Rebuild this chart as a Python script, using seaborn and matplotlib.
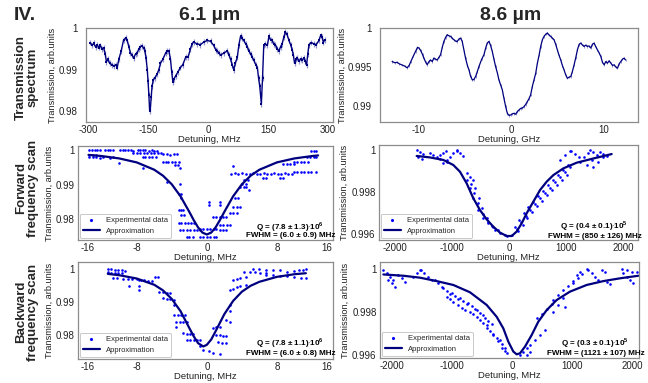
import numpy as np
import pandas as pd
import matplotlib
matplotlib.use("Agg")
import matplotlib.pyplot as plt
import seaborn as sns

# ---------------- data ----------------
# Transmission spectrum, 6.1 um (detuning MHz)
tl_x = [-294,-290,-286,-281,-277,-273,-269,-265,-261,-257,-254,-250,-246,-240,-235,-230,-227,-223,-217,-211,
        -206,-202,-198,-194,-190,-186,-181,-177,-173,-169,-165,-161,-158,-155,-152,-150,-148,-146,-144,-142,
        -140,-137,-133,-127,-123,-119,-113,-106,-102,-98,-94,-91,-88,-85,-81,-75,-69,-63,-56,-50,
        -44,-40,-36,-28,-19,-11,-2,6,14,19,23,27,31,40,48,52,56,60,64,68,
        73,77,81,85,89,94,98,102,106,110,114,119,123,126,129,131,133,136,139,143,
        148,152,156,160,164,168,173,177,181,185,189,193,197,202,206,210,213,216,220,223,
        227,231,235,239,243,246,249,252,258,264,270,277,281,285,288,291]
tl_y = [0.9965,0.9958,0.9963,0.9955,0.9960,0.9953,0.9958,0.9950,0.9952,0.9938,0.9919,0.9925,0.9915,0.9912,0.9908,0.9912,0.9905,0.9925,0.9945,0.9972,
        0.9975,0.9970,0.9955,0.9940,0.9935,0.9928,0.9938,0.9940,0.9950,0.9955,0.9957,0.9952,0.9945,0.9928,0.9900,0.9872,0.9840,0.9800,0.9810,0.9835,
        0.9860,0.9875,0.9880,0.9890,0.9900,0.9915,0.9925,0.9940,0.9945,0.9945,0.9925,0.9895,0.9870,0.9878,0.9885,0.9895,0.9905,0.9912,0.9930,0.9930,
        0.9950,0.9962,0.9966,0.9962,0.9960,0.9966,0.9970,0.9968,0.9958,0.9948,0.9945,0.9940,0.9935,0.9940,0.9945,0.9936,0.9925,0.9912,0.9900,0.9915,
        0.9930,0.9960,0.9980,0.9975,0.9970,0.9962,0.9955,0.9945,0.9938,0.9930,0.9923,0.9912,0.9905,0.9880,0.9860,0.9840,0.9818,0.9880,0.9958,0.9962,
        0.9958,0.9980,0.9972,0.9970,0.9962,0.9960,0.9950,0.9945,0.9955,0.9962,0.9978,0.9990,0.9985,0.9970,0.9960,0.9948,0.9935,0.9915,0.9925,0.9928,
        0.9920,0.9925,0.9922,0.9928,0.9920,0.9910,0.9938,0.9960,0.9965,0.9962,0.9960,0.9970,0.9982,0.9978,0.9965,0.9972]
tl_err = 0.0007

# Transmission spectrum, 8.6 um (detuning GHz)
tr_x = [-12.89,-12.6,-12.35,-12.1,-11.81,-11.5,-11.26,-11.05,-10.9,-10.6,-10.36,-10.15,-10.0,-9.82,-9.6,-9.46,-9.25,-9.1,-8.9,-8.74,
        -8.55,-8.38,-8.2,-8.01,-7.8,-7.65,-7.45,-7.29,-7.1,-6.93,-6.75,-6.57,-6.4,-6.21,-6.0,-5.85,-5.65,-5.49,-5.31,-5.1,
        -4.95,-4.75,-4.58,-4.4,-4.22,-4.05,-3.86,-3.68,-3.5,-3.2,-2.96,-2.78,-2.6,-2.42,-2.25,-2.06,-1.88,-1.7,-1.5,-1.34,
        -1.15,-0.97,-0.8,-0.61,-0.43,-0.25,-0.07,0.1,0.29,0.47,0.65,0.83,1.01,1.2,1.37,1.55,1.73,1.9,2.09,2.27,
        2.45,2.64,2.82,3.0,3.18,3.36,3.54,3.72,3.9,4.08,4.26,4.44,4.62,4.8,4.98,5.16,5.34,5.52,5.7,5.88,
        6.06,6.25,6.43,6.6,6.79,6.97,7.15,7.33,7.51,7.7,7.87,8.05,8.23,8.4,8.59,8.77,8.95,9.13,9.31,9.5,
        9.68,9.86,10.04,10.22,10.4,10.58,10.76,10.94,11.12,11.3,11.48,11.66,11.84,12.02,12.2,12.35]
tr_y = [0.99571,0.99555,0.99560,0.99540,0.99525,0.99510,0.99490,0.99520,0.99560,0.99640,0.99700,0.99750,0.99745,0.99715,0.99660,0.99614,0.99560,0.99530,0.99570,0.99590,
        0.99570,0.99614,0.99600,0.99590,0.99630,0.99657,0.99760,0.99828,0.99880,0.99914,0.99900,0.99893,0.99870,0.99850,0.99830,0.99828,0.99860,0.99871,0.99828,0.99700,
        0.99614,0.99520,0.99464,0.99380,0.99335,0.99340,0.99378,0.99440,0.99507,0.99600,0.99657,0.99740,0.99807,0.99828,0.99780,0.99700,0.99600,0.99507,0.99420,0.99335,
        0.99270,0.99206,0.99100,0.98992,0.98906,0.98880,0.98885,0.98900,0.98906,0.98895,0.98928,0.98950,0.98970,0.98975,0.98992,0.99020,0.99056,0.99090,0.99142,0.99250,
        0.99335,0.99420,0.99550,0.99650,0.99764,0.99850,0.99893,0.99920,0.99936,0.99910,0.99893,0.99870,0.99850,0.99790,0.99721,0.99650,0.99592,0.99520,0.99464,0.99400,
        0.99356,0.99370,0.99378,0.99440,0.99528,0.99620,0.99721,0.99790,0.99807,0.99780,0.99764,0.99780,0.99764,0.99770,0.99743,0.99790,0.99807,0.99760,0.99721,0.99680,
        0.99635,0.99560,0.99528,0.99570,0.99550,0.99580,0.99550,0.99520,0.99528,0.99500,0.99485,0.99540,0.99571,0.99600,0.99614,0.99590]
tr_err = 0.00015

# Forward scan, 6.1 um: experimental points (detuning MHz, transmission)
fwd61_pts = [
    (-13.4,1.0000),(-13.1,0.9999),(-12.8,1.0000),(-12.5,0.9999),(-12.2,1.0000),(-11.6,0.9999),(-11.3,1.0000),(-11.0,0.9999),
    (-10.7,1.0000),(-9.9,0.9999),(-9.6,1.0000),(-9.3,0.9999),(-9.0,1.0000),(-8.7,0.9999),(-8.4,0.9998),(-7.9,0.9999),
    (-7.6,1.0000),(-7.3,0.9999),(-7.0,0.9999),(-6.6,0.9998),(-6.3,0.9999),(-6.0,0.9998),(-5.7,0.9998),
    (-8.4,0.9992),(-8.0,0.9992),(-7.6,0.9991),(-7.2,0.9992),(-6.8,0.9991),(-6.4,0.9992),(-6.0,0.9991),(-5.6,0.9992),(-5.2,0.9992),
    (-13.4,0.9986),(-13.0,0.9986),(-12.6,0.9985),
    (-13.4,0.9979),(-13.0,0.9979),(-12.6,0.9979),(-12.2,0.9978),(-11.8,0.9979),(-11.0,0.9978),(-10.7,0.9979),
    (-10.0,0.9964),
    (-7.3,0.9981),(-7.0,0.9981),(-6.6,0.9980),(-6.2,0.9981),(-5.8,0.9980),
    (-5.0,0.9988),(-4.6,0.9988),(-4.2,0.9987),(-3.8,0.9988),(-3.4,0.9988),
    (-5.0,0.9966),(-4.7,0.9966),(-4.4,0.9965),(-4.0,0.9966),(-3.6,0.9966),(-3.2,0.9965),
    (-3.6,0.9957),(-3.3,0.9957),(-3.1,0.9947),(-7.3,0.9947),
    (-4.6,0.9908),(-3.1,0.9903),
    (-3.2,0.9874),(-2.9,0.9874),(-3.0,0.9860),
    (-3.2,0.9826),(-3.0,0.9826),(-2.7,0.9826),(-2.9,0.9812),(-2.6,0.9812),
    (-3.2,0.9787),(-2.9,0.9787),(-2.5,0.9787),(-2.1,0.9787),(-1.8,0.9787),(-1.5,0.9787),
    (-3.1,0.9768),(-2.7,0.9768),(-2.3,0.9768),(-1.9,0.9768),(-1.5,0.9768),(-1.1,0.9768),(-0.8,0.9768),
    (-2.3,0.9749),(-2.0,0.9749),(-1.6,0.9749),(-0.8,0.9749),(-0.4,0.9749),(0.0,0.9749),(0.4,0.9749),(0.8,0.9749),(1.1,0.9749),
    (-0.8,0.9771),(-0.4,0.9771),(0.0,0.9771),(0.4,0.9771),(0.8,0.9771),(1.1,0.9771),
    (0.3,0.9850),(1.5,0.9850),(0.3,0.9841),(1.5,0.9841),
    (0.7,0.9807),(1.1,0.9807),(1.5,0.9807),(1.9,0.9807),(2.2,0.9807),
    (1.5,0.9783),(1.9,0.9783),(2.3,0.9783),(2.6,0.9783),
    (1.5,0.9768),(1.9,0.9768),(2.2,0.9768),
    (2.6,0.9816),(3.0,0.9816),(3.4,0.9816),
    (3.0,0.9836),(3.4,0.9836),(3.8,0.9836),
    (3.2,0.9860),(3.6,0.9860),
    (3.8,0.9894),(4.2,0.9894),(4.5,0.9894),(4.0,0.9903),(4.5,0.9903),(4.3,0.9913),(4.7,0.9913),(4.8,0.9885),
    (3.0,0.9955),
    (2.8,0.9932),(3.2,0.9933),(3.6,0.9932),(4.0,0.9933),(4.5,0.9932),(4.9,0.9932),(5.3,0.9933),(5.7,0.9932),(6.1,0.9932),
    (6.5,0.9933),(6.9,0.9932),(7.3,0.9932),(7.7,0.9933),(8.1,0.9932),(8.5,0.9932),(8.9,0.9933),(9.3,0.9932),(9.7,0.9932),
    (6.4,0.9918),(6.8,0.9918),(8.3,0.9918),(8.7,0.9918),
    (9.9,0.9937),(10.3,0.9937),(10.7,0.9937),(11.1,0.9937),(11.5,0.9937),(11.9,0.9937),(12.5,0.9937),
    (8.7,0.9961),(9.1,0.9961),(9.5,0.9961),(9.9,0.9961),
    (9.9,0.9966),(10.3,0.9966),(10.7,0.9966),(11.1,0.9966),(11.5,0.9966),
    (11.4,0.9981),(11.8,0.9981),(12.2,0.9981),(12.5,0.9981),
    (11.9,0.9998),(12.2,0.9998),(12.5,0.9998),
]
fwd61_fit_x = [-13.5,-12,-10,-8,-6,-5,-4,-3,-2,-1.5,-1,-0.5,0,0.5,1,1.5,2,3,4,5,6,8,10,12,12.7]
fwd61_fit_y = [0.99862,0.99828,0.99759,0.99644,0.99431,0.99257,0.99008,0.98658,0.98208,0.97970,0.97756,0.97605,0.97550,
               0.97605,0.97756,0.97970,0.98208,0.98658,0.99008,0.99257,0.99431,0.99644,0.99759,0.99828,0.99847]

# Backward scan, 6.1 um
bwd61_pts = [
    (-11.3,0.9999),(-10.9,0.99985),(-10.5,0.99975),(-10.1,0.99965),(-9.7,0.99955),(-9.3,0.9995),
    (-11.3,0.9990),(-10.9,0.99885),(-10.5,0.9988),(-10.1,0.9987),(-9.7,0.99865),
    (-10.7,0.9971),(-10.2,0.9971),(-9.6,0.9970),(-9.0,0.9970),(-8.5,0.9969),(-8.0,0.9968),(-7.5,0.9967),
    (-8.9,0.9949),(-7.7,0.9948),(-7.7,0.9936),
    (-7.7,0.9966),(-7.2,0.9965),(-6.7,0.9964),(-6.2,0.9963),
    (-5.9,0.9977),(-5.6,0.9975),
    (-5.4,0.9931),(-5.0,0.9929),(-4.6,0.9928),(-4.2,0.9926),
    (-5.0,0.9911),(-4.6,0.9910),(-4.2,0.9908),(-3.8,0.9906),
    (-3.8,0.9891),
    (-3.7,0.9861),(-3.3,0.9861),(-2.9,0.9861),(-2.5,0.9861),
    (-3.5,0.9840),(-3.1,0.9840),(-2.7,0.9840),(-2.3,0.9840),
    (-3.5,0.9825),
    (-2.7,0.9805),(-2.3,0.9804),(-1.9,0.9803),(-1.6,0.9802),
    (-2.3,0.9785),(-1.9,0.9785),(-1.5,0.9785),(-1.1,0.9785),(-0.8,0.9785),
    (-0.8,0.9765),(-0.4,0.9755),(0.3,0.9750),(0.7,0.9745),(1.5,0.9741),
    (1.3,0.9780),(1.7,0.9777),(2.2,0.9775),
    (1.1,0.9800),(1.5,0.9799),(1.9,0.9798),(2.2,0.9797),
    (0.7,0.9820),(1.1,0.9823),(1.5,0.9825),
    (2.2,0.9845),(2.6,0.9840),
    (2.6,0.9871),(2.6,0.9891),
    (2.6,0.9936),(3.0,0.9940),(3.4,0.9945),(3.8,0.9948),(4.5,0.9952),
    (3.0,0.9967),(3.4,0.9970),(3.8,0.9973),(4.5,0.9977),
    (4.3,0.9992),(4.9,0.9991),(5.5,0.9990),(6.1,0.9989),(6.8,0.9987),
    (5.3,1.0000),(6.0,0.9999),(6.8,0.9998),(7.6,0.9997),(8.4,0.9996),(9.1,0.9992),
    (6.8,0.9982),(7.6,0.9981),(8.4,0.9979),(9.2,0.9978),(10.0,0.9976),(10.8,0.9974),(11.3,0.9972),
    (9.9,0.9994),(10.5,0.9996),(11.0,0.9998),(11.3,1.0000),
]
bwd61_fit_x = [-11.3,-10,-8,-6,-5,-4,-3,-2,-1.5,-1,-0.4,0,0.5,1,1.5,2,3,4,5,6,8,10,11.3]
bwd61_fit_y = [0.9985,0.9981,0.9971,0.9952,0.9935,0.9909,0.9872,0.9821,0.9796,0.9775,0.9765,0.9770,0.9786,
               0.9811,0.9837,0.9863,0.9903,0.9931,0.9949,0.9961,0.9976,0.9984,0.9987]

# Forward scan, 8.6 um
fwd86_pts = [
    (-1620,1.0),(-1561,0.99991),(-1503,0.99981),
    (-1591,0.99965),(-1532,0.99956),
    (-1386,0.99987),(-1327,0.99978),(-1269,0.99968),(-1211,0.99959),
    (-1211,0.99976),(-1152,0.99987),(-1105,0.99997),
    (-1094,0.99953),(-1035,0.99968),(-977,0.99984),(-918,1.0),
    (-918,0.99997),(-860,0.99984),(-801,0.99972),
    (-1152,0.99937),(-1094,0.99945),
    (-743,0.99889),(-684,0.99874),(-626,0.99858),
    (-743,0.99858),(-672,0.99837),(-602,0.99818),
    (-684,0.99818),(-608,0.99794),(-532,0.99771),
    (-626,0.99771),(-550,0.99747),(-474,0.99723),
    (-538,0.99715),(-462,0.99695),(-392,0.99676),
    (-450,0.99676),(-374,0.99657),(-298,0.99640),
    (-363,0.99652),(-275,0.99636),(-187,0.99621),
    (-246,0.99621),(-158,0.99608),(-70,0.99597),
    (-41,0.99592),(47,0.99597),
    (105,0.99636),(134,0.99625),(164,0.99614),
    (181,0.99668),(211,0.99657),(240,0.99646),
    (263,0.99700),(292,0.99689),(322,0.99677),
    (339,0.99728),(368,0.99717),(398,0.99706),
    (427,0.99755),(456,0.99744),(485,0.99733),
    (515,0.99782),(544,0.99771),(573,0.99760),
    (602,0.99807),(632,0.99796),(661,0.99785),
    (690,0.99832),(719,0.99821),(749,0.99810),
    (778,0.99858),(807,0.99847),(836,0.99836),
    (866,0.99881),(895,0.99870),(924,0.99859),
    (953,0.99905),(982,0.99894),(1012,0.99883),
    (1041,0.99929),(1070,0.99918),
    (895,0.99953),(982,0.99976),(1070,0.99997),
    (1082,0.99997),(1152,0.99981),(1222,0.99965),
    (1246,0.99945),(1316,0.99965),(1386,0.99984),
    (1363,0.99929),(1450,0.99953),(1538,0.99976),
    (1480,0.99921),(1567,0.99945),(1655,0.99968),
    (1597,0.99992),(1655,0.99981),(1713,0.99972),
    (1421,1.0),(1480,0.99992),
]
fwd86_fit_x = [-1620,-1386,-1152,-977,-860,-743,-626,-509,-392,-275,-158,-41,47,134,222,310,427,544,661,778,953,1187,1480,1801]
fwd86_fit_y = [0.99972,0.99965,0.99953,0.99929,0.99897,0.99842,0.99771,0.99715,0.99671,0.99636,0.99608,0.99592,
               0.99592,0.99613,0.99652,0.99700,0.99755,0.99810,0.99850,0.99881,0.99913,0.99940,0.99960,0.99981]

# Backward scan, 8.6 um
bwd86_pts = [
    (-2137,0.99995),(-2082,0.99980),(-2027,0.99964),(-1971,0.99949),
    (-2054,0.99949),(-1999,0.99933),(-1944,0.99918),
    (-1888,0.99972),(-1833,0.99957),(-1777,0.99941),
    (-1639,0.99964),(-1573,0.99980),(-1506,0.99995),
    (-1528,0.99995),(-1462,0.99980),(-1395,0.99964),(-1329,0.99949),
    (-1279,0.99949),(-1224,0.99933),(-1168,0.99918),
    (-1141,0.99910),(-1085,0.99898),(-1030,0.99885),
    (-1002,0.99887),(-947,0.99874),(-891,0.99862),
    (-1085,0.99871),(-1030,0.99859),(-975,0.99847),
    (-864,0.99864),(-808,0.99851),(-753,0.99839),
    (-891,0.99833),(-836,0.99820),(-781,0.99808),
    (-725,0.99840),(-670,0.99828),(-615,0.99816),
    (-698,0.99802),(-642,0.99789),(-587,0.99777),
    (-587,0.99809),(-532,0.99797),(-476,0.99785),
    (-532,0.99763),(-476,0.99750),(-421,0.99738),
    (-448,0.99771),(-393,0.99758),(-338,0.99746),
    (-421,0.99724),(-365,0.99712),(-310,0.99699),
    (-310,0.99693),(-255,0.99681),(-199,0.99668),
    (-227,0.99665),(-172,0.99650),(-116,0.99634),
    (-172,0.99631),(-116,0.99619),(-89,0.99608),
    (133,0.99600),(188,0.99616),(244,0.99631),
    (244,0.99600),(299,0.99612),
    (299,0.99647),(382,0.99670),(465,0.99693),(548,0.99716),
    (410,0.99771),(493,0.99792),(576,0.99814),(659,0.99836),
    (687,0.99856),(770,0.99879),(853,0.99902),(936,0.99923),(1019,0.99944),
    (687,0.99802),(770,0.99833),(853,0.99864),(880,0.99825),
    (1019,0.99933),(1091,0.99957),(1163,0.99978),(1240,1.0),
    (1268,0.99995),(1323,0.99980),(1379,0.99964),(1434,0.99949),
    (1074,0.99972),(1130,0.99985),
    (1489,0.99995),(1545,0.99985),
    (1849,0.99980),(1905,0.99964),(1960,0.99949),(2016,0.99933),
    (1822,1.0),(1905,0.99994),(1988,0.99988),(2071,0.99985),
    (1573,0.99941),(1628,0.99929),
]
bwd86_fit_x = [-2137,-1805,-1528,-1251,-975,-698,-421,-255,-144,-61,22,78,133,216,327,437,576,742,963,1240,1517,1794,2100]
bwd86_fit_y = [0.99975,0.99969,0.99960,0.99944,0.99926,0.99892,0.99833,0.99778,0.99724,0.99662,0.99616,0.99603,0.99608,
               0.99639,0.99693,0.99755,0.99809,0.99856,0.99895,0.99926,0.99944,0.99957,0.99969]

q_texts = {
    "fwd61": ("Q = (7.8 ± 1.3)$\\cdot$10$^6$", "FWHM = (6.0 ± 0.9) MHz"),
    "bwd61": ("Q = (7.8 ± 1.1)$\\cdot$10$^6$", "FWHM = (6.0 ± 0.8) MHz"),
    "fwd86": ("Q = (0.4 ± 0.1)$\\cdot$10$^5$", "FWHM = (850 ± 126) MHz"),
    "bwd86": ("Q = (0.3 ± 0.1)$\\cdot$10$^5$", "FWHM = (1121 ± 107) MHz"),
}

# ---------------- style ----------------
sns.set_theme(style="white")
plt.rcParams["font.family"] = ["Liberation Sans", "DejaVu Sans"]
plt.rcParams["mathtext.fontset"] = "custom"
plt.rcParams["mathtext.rm"] = "Liberation Sans:bold"

W, H = 648, 383
fig = plt.figure(figsize=(W / 100, H / 100), dpi=100)


def box(l, t, r, b):
    return [l / W, 1 - b / H, (r - l) / W, (b - t) / H]


LINE = "#00007f"
PT = "#0000ff"
SPINE = "#8c8c8c"


def style(ax, xlim, ylim, xt, xtl, yt, ytl, xlabel, ylx, ypad):
    ax.set_xlim(*xlim)
    ax.set_ylim(*ylim)
    ax.set_xticks(xt)
    ax.set_xticklabels(xtl)
    ax.set_yticks(yt)
    ax.set_yticklabels(ytl)
    ax.tick_params(axis="both", length=0, labelsize=7, colors="#222222")
    ax.tick_params(axis="x", pad=2)
    ax.tick_params(axis="y", pad=ypad)
    for s in ax.spines.values():
        s.set_color(SPINE)
        s.set_linewidth(0.9)
    ax.set_xlabel(xlabel, fontsize=6.8, labelpad=0.5, color="#222222")
    ax.set_ylabel("Transmission, arb.units", fontsize=6.6, color="#222222")
    ax.yaxis.set_label_coords(ylx, 0.5)


def scan(ax, pts, fx, fy, key, qy):
    df = pd.DataFrame(pts, columns=["det", "T"])
    sns.scatterplot(data=df, x="det", y="T", ax=ax, s=3.5, color=PT, linewidth=0,
                    marker="o", label="Experimental data")
    sns.lineplot(x=fx, y=fy, ax=ax, color=LINE, lw=1.6, label="Approximation", sort=False)
    leg = ax.legend(loc="lower left", fontsize=5.5, frameon=True, borderpad=0.4,
                    handlelength=2.2, labelspacing=0.45, borderaxespad=0.25, markerscale=1.2,
                    handletextpad=0.8)
    leg.get_frame().set_edgecolor("#b0b0b0")
    leg.get_frame().set_linewidth(0.6)
    q, fw = q_texts[key]
    fn = dict(family=["Liberation Sans Narrow", "Liberation Sans"], weight="bold", fontsize=5.8,
              ha="center", va="center", transform=ax.transAxes, color="black")
    ax.text(0.83, qy[0], q, **fn)
    ax.text(0.835, qy[1], fw, **fn)


# ---- top left
ax1 = fig.add_axes(box(86, 28, 333, 122))
ax1.errorbar(tl_x, tl_y, yerr=tl_err, fmt="none", ecolor="#7a7ac4", elinewidth=0.9, alpha=0.8)
sns.lineplot(x=tl_x, y=tl_y, ax=ax1, color=LINE, lw=1.0, marker="s", markersize=1.8,
             markeredgewidth=0, sort=False)
style(ax1, (-305, 312), (0.9774, 1.0), [-300, -150, 0, 150, 300], ["-300", "-150", "0", "150", "300"],
      [0.98, 0.99, 1.0], ["0.98", "0.99", "1"], "Detuning, MHz", -0.118, 6)

# ---- top right
ax2 = fig.add_axes(box(380, 28, 638, 122))
ax2.errorbar(tr_x, tr_y, yerr=tr_err, fmt="none", ecolor="#7a7ac4", elinewidth=0.7, alpha=0.8)
sns.lineplot(x=tr_x, y=tr_y, ax=ax2, color=LINE, lw=0.9, sort=False)
style(ax2, (-14.2, 13.7), (0.98795, 1.0), [-10, 0, 10], ["-10", "0", "10"],
      [0.99, 0.995, 1.0], ["0.99", "0.995", "1"], "Detuning, GHz", -0.13, 6)

# ---- middle left
ax3 = fig.add_axes(box(78, 146, 333, 240))
scan(ax3, fwd61_pts, fwd61_fit_x, fwd61_fit_y, "fwd61", (0.14, 0.045))
style(ax3, (-14.7, 14.4), (0.9739, 1.0012), [-13.65, -8, 0, 8, 13.65], ["-16", "-8", "0", "8", "16"],
      [0.98, 0.99, 1.0], ["0.98", "0.99", "1"], "Detuning, MHz", -0.096, 2.5)

# ---- middle right
ax4 = fig.add_axes(box(379, 145, 638, 240))
scan(ax4, fwd86_pts, fwd86_fit_x, fwd86_fit_y, "fwd86", (0.145, 0.04))
style(ax4, (-2281, 2263), (0.99573, 1.00024), [-2000, -1000, 0, 1000, 2000],
      ["-2000", "-1000", "0", "1000", "2000"],
      [0.996, 0.998, 1.0], ["0.996", "0.998", "1"], "Detuning, MHz", -0.118, 2.5)

# ---- bottom left
ax5 = fig.add_axes(box(78, 262, 333, 359))
scan(ax5, bwd61_pts, bwd61_fit_x, bwd61_fit_y, "bwd61", (0.17, 0.055))
style(ax5, (-14.7, 14.4), (0.9727, 1.0021), [-13.65, -8, 0, 8, 13.65], ["-16", "-8", "0", "8", "16"],
      [0.98, 0.99, 1.0], ["0.98", "0.99", "1"], "Detuning, MHz", -0.096, 2.5)

# ---- bottom right
ax6 = fig.add_axes(box(380, 262, 639, 358))
scan(ax6, bwd86_pts, bwd86_fit_x, bwd86_fit_y, "bwd86", (0.155, 0.045))
style(ax6, (-2193, 2110), (0.99586, 1.00033), [-2000, -1000, 0, 1000, 2000],
      ["-2000", "-1000", "0", "1000", "2000"],
      [0.996, 0.998, 1.0], ["0.996", "0.998", "1"], "Detuning, MHz", -0.118, 2.5)

# ---- figure texts
fig.text(14 / W, 1 - 16 / H, "IV.", fontsize=14, weight="bold", ha="left", va="center")
fig.text(210 / W, 1 - 16 / H, "6.1 µm", fontsize=14, weight="bold", ha="center", va="center")
fig.text(511 / W, 1 - 16 / H, "8.6 µm", fontsize=14, weight="bold", ha="center", va="center")
for txt, yc in [("Transmission\nspectrum", 77), ("Forward\nfrequency scan", 188), ("Backward\nfrequency scan", 312)]:
    fig.text(27 / W, 1 - yc / H, txt, fontsize=9.5, weight="bold", rotation=90,
             ha="center", va="center", multialignment="center", linespacing=1.0)

fig.savefig("out.png", dpi=100)
